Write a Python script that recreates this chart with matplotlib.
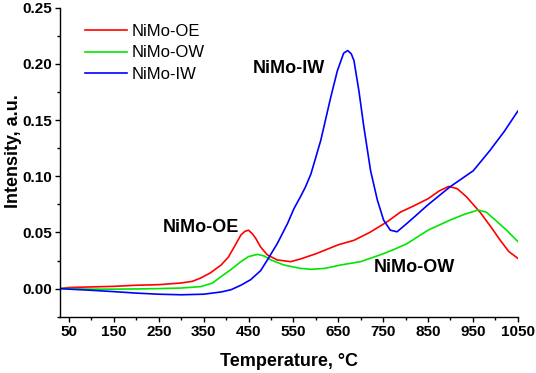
import matplotlib
matplotlib.use("Agg")
import matplotlib.pyplot as plt
from matplotlib.ticker import MultipleLocator

plt.rcParams['font.family'] = ['Liberation Sans', 'DejaVu Sans']

# NiMo-OE (red)
t_oe = [30, 50, 100, 150, 200, 250, 300, 325, 344, 365, 389, 405, 418, 433, 442,
        450, 458, 466, 477, 492, 514, 544, 566, 600, 650, 685, 720, 759, 788, 820,
        850, 875, 896, 915, 935, 966, 990, 1011, 1030, 1050]
i_oe = [0.000, 0.001, 0.0015, 0.002, 0.003, 0.0035, 0.005, 0.0065, 0.0095, 0.014,
        0.021, 0.028, 0.037, 0.0477, 0.051, 0.052, 0.049, 0.0448, 0.037, 0.030,
        0.0255, 0.024, 0.0264, 0.031, 0.039, 0.043, 0.050, 0.0595, 0.068, 0.074,
        0.080, 0.087, 0.091, 0.089, 0.082, 0.068, 0.055, 0.043, 0.033, 0.027]

# NiMo-OW (green)
t_ow = [30, 50, 100, 150, 200, 250, 300, 344, 370, 389, 411, 433, 450, 470, 485,
        500, 529, 566, 590, 620, 655, 700, 750, 775, 803, 850, 899, 930, 962, 980,
        1000, 1025, 1050]
i_ow = [0.000, 0.000, -0.0005, -0.0005, -0.0003, 0.000, 0.0005, 0.0018, 0.005,
        0.0107, 0.017, 0.024, 0.0285, 0.0305, 0.029, 0.0255, 0.021, 0.018, 0.0172,
        0.018, 0.021, 0.024, 0.031, 0.035, 0.040, 0.052, 0.061, 0.066, 0.070,
        0.068, 0.061, 0.052, 0.042]

# NiMo-IW (blue)
t_iw = [30, 50, 100, 150, 200, 250, 300, 350, 389, 411, 433, 455, 477, 492, 514,
        537, 551, 566, 577, 589, 600, 611, 633, 648, 662, 671, 679, 685, 696, 707,
        722, 737, 751, 766, 781, 800, 820, 848, 899, 951, 988, 1020, 1050]
i_iw = [0.000, -0.0005, -0.0015, -0.0027, -0.004, -0.005, -0.0055, -0.005, -0.003,
        -0.001, 0.003, 0.008, 0.016, 0.0255, 0.040, 0.058, 0.071, 0.082, 0.0906,
        0.102, 0.117, 0.132, 0.170, 0.194, 0.2096, 0.212, 0.209, 0.203, 0.176,
        0.144, 0.105, 0.079, 0.061, 0.052, 0.0506, 0.057, 0.064, 0.074, 0.0906,
        0.105, 0.123, 0.140, 0.158]

x_ticks = [50, 150, 250, 350, 450, 550, 650, 750, 850, 950, 1050]

fig = plt.figure(figsize=(5.36, 3.73), dpi=100)
ax = fig.add_axes([0.112, 0.151, 0.854, 0.828])

ax.plot(t_oe, i_oe, color='#ff0000', lw=1.2, label='NiMo-OE')
ax.plot(t_ow, i_ow, color='#00e600', lw=1.2, label='NiMo-OW')
ax.plot(t_iw, i_iw, color='#0000ff', lw=1.2, label='NiMo-IW')

ax.set_xlim(30, 1050)
ax.set_ylim(-0.025, 0.25)
ax.set_xticks(x_ticks)
ax.xaxis.set_minor_locator(MultipleLocator(50))
ax.yaxis.set_major_locator(MultipleLocator(0.05))
ax.yaxis.set_minor_locator(MultipleLocator(0.025))
ax.yaxis.set_major_formatter(plt.FormatStrFormatter('%.2f'))

for s in ['top', 'right']:
    ax.spines[s].set_visible(False)
for s in ['left', 'bottom']:
    ax.spines[s].set_linewidth(1.0)

ax.tick_params(which='major', direction='out', length=3.5, width=1.0, pad=2.5,
               labelsize=11)
ax.tick_params(which='minor', direction='out', length=2, width=1.0)
for lab in ax.get_xticklabels() + ax.get_yticklabels():
    lab.set_fontweight('bold')

ax.set_xlabel('Temperature, °C', fontsize=13, fontweight='bold')
ax.set_ylabel('Intensity, a.u.', fontsize=13, fontweight='bold')
ax.xaxis.set_label_coords(0.5, -0.118)
ax.yaxis.set_label_coords(-0.082, 0.535)

ax.text(344, 0.054, 'NiMo-OE', fontsize=13, fontweight='bold', ha='center', va='center')
ax.text(540, 0.196, 'NiMo-IW', fontsize=13, fontweight='bold', ha='center', va='center')
ax.text(820, 0.019, 'NiMo-OW', fontsize=13, fontweight='bold', ha='center', va='center')

ax.legend(loc='upper left', bbox_to_anchor=(0.04, 0.97), frameon=False, fontsize=12,
          handlelength=2.5, labelspacing=0.4, handletextpad=0.3, borderaxespad=0)

fig.savefig('out.png', dpi=100)
